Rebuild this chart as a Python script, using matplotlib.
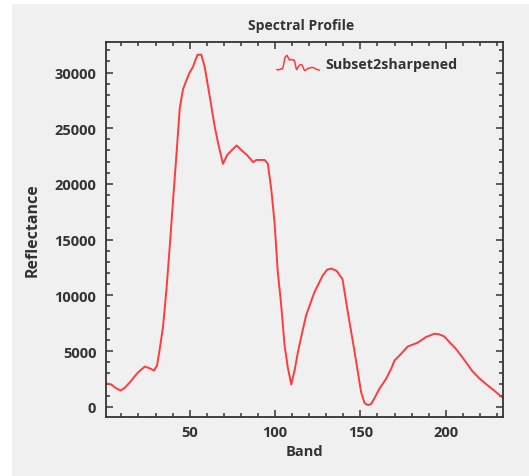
import matplotlib
matplotlib.use("Agg")
import matplotlib.pyplot as plt
from matplotlib.patches import Rectangle
from matplotlib.lines import Line2D
from matplotlib.legend_handler import HandlerBase
from matplotlib.ticker import MultipleLocator
from matplotlib import font_manager
import numpy as np

# ---- data ----
bands = [1, 4, 6.5, 9.5, 12, 15, 19.8, 23.7, 26.6, 29.1, 30.9, 32.5, 34.4, 36.4,
         38.3, 40.5, 42.2, 44.2, 46.1, 48.1, 50, 51.9, 53.3, 54.6, 56.8, 58.8,
         61.7, 64.6, 66.6, 69.5, 72, 74.5, 77.5, 80.5, 83.5, 87.2, 89.1, 93.9,
         95.8, 97.8, 99.7, 101.6, 103.5, 105.6, 107.5, 109.5, 111.5, 113.4,
         115.8, 118.2, 123.1, 128, 130.5, 133, 136, 139.5, 142.6, 146.5, 150.4,
         152.5, 154.5, 156.3, 158, 161.1, 165, 168, 169.9, 173.8, 177.7, 183.5,
         188.4, 193.3, 196, 199, 202.1, 206, 211.8, 215.5, 219.6, 223.5, 228.4, 233]
reflectance = [2100, 2000, 1700, 1450, 1700, 2200, 3090, 3600, 3450, 3250, 3700,
               5200, 7200, 10500, 14300, 19000, 22500, 26800, 28500, 29300, 30000,
               30500, 31100, 31600, 31600, 30500, 27900, 25200, 23700, 21800,
               22600, 23000, 23450, 23000, 22600, 21950, 22150, 22150, 21800,
               19500, 16550, 12100, 9300, 5500, 3500, 2000, 3300, 4900, 6600,
               8200, 10300, 11800, 12300, 12400, 12200, 11450, 8500, 5000, 1300,
               300, 150, 250, 700, 1600, 2500, 3400, 4130, 4750, 5400, 5750,
               6250, 6550, 6500, 6320, 5800, 5180, 4000, 3200, 2550, 2040, 1440, 850]
series_name = "Subset2sharpened"
x_ticks = [50, 100, 150, 200]
y_ticks = [0, 5000, 10000, 15000, 20000, 25000, 30000]

# pick a humanist sans family that really has a bold face installed
bold_fams = {}
for f in font_manager.fontManager.ttflist:
    w = f.weight if isinstance(f.weight, int) else (700 if "bold" in str(f.weight).lower() else 400)
    if w >= 600:
        bold_fams.setdefault(f.name, True)
FONT = "DejaVu Sans"
for cand in ["Noto Sans", "Open Sans", "Roboto", "Lato", "Liberation Sans"]:
    if cand in bold_fams:
        FONT = cand
        break
plt.rcParams['font.family'] = [FONT, 'DejaVu Sans']

TXT = "#333333"
LINE = "#ff3b3b"
W, H = 529, 477

fig = plt.figure(figsize=(W / 100, H / 100), dpi=100, facecolor="white")
bg = Rectangle((12 / W, 0), 1 - 12 / W, 1 - 5 / H,
               transform=fig.transFigure, facecolor="#f0f0f0",
               edgecolor="none", zorder=-10)
fig.patches.append(bg)

L, R, T, B = 106, 503, 43, 418
ax = fig.add_axes([L / W, 1 - B / H, (R - L) / W, (B - T) / H])
ax.set_facecolor("#f0f0f0")
ax.set_zorder(5)

ax.plot(bands, reflectance, color=LINE, lw=1.4, label=series_name)
ax.set_xlim(1, 233.5)
ax.set_ylim(-925, 32740)

ax.set_xticks(x_ticks)
ax.set_yticks(y_ticks)
ax.xaxis.set_minor_locator(MultipleLocator(10))
ax.yaxis.set_minor_locator(MultipleLocator(1000))
ax.tick_params(which="both", direction="in", top=True, right=True,
               color=TXT, width=1.1, labelcolor=TXT)
ax.tick_params(which="major", length=5, labelsize=10.5)
ax.tick_params(axis="x", which="major", pad=6)
ax.tick_params(axis="y", which="major", pad=7)
ax.tick_params(which="minor", length=3)
for lab in ax.get_xticklabels() + ax.get_yticklabels():
    lab.set_fontweight("bold")
for s in ax.spines.values():
    s.set_color(TXT)
    s.set_linewidth(1.3)

ax.set_xlabel("Band", fontsize=10.5, fontweight="bold", color=TXT)
ax.xaxis.label.set_va("center")
ax.xaxis.set_label_coords(0.5, -34 / (B - T))
ax.set_ylabel("Reflectance", fontsize=11.5, fontweight="bold", color=TXT)
ax.yaxis.label.set_va("center")
ax.yaxis.set_label_coords((33 - L) / (R - L), 0.5)

fig.text(301 / W, 1 - 26 / H, "Spectral Profile", ha="center", va="center",
         fontsize=10, fontweight="bold", color=TXT)


class HandlerSpectrum(HandlerBase):
    def create_artists(self, legend, orig_handle, xdescent, ydescent, width,
                       height, fontsize, trans):
        xd = np.asarray(orig_handle.get_xdata(), float)
        yd = np.asarray(orig_handle.get_ydata(), float)
        xs = (xd - xd.min()) / (xd.max() - xd.min()) * width - xdescent
        span = height * 1.5
        cy = height / 2 - ydescent
        ys = cy - span / 2 + (yd - yd.min()) / (yd.max() - yd.min()) * span
        ln = Line2D(xs, ys, color=orig_handle.get_color(), lw=1.1,
                    transform=trans)
        return [ln]


leg = ax.legend(loc="center left",
                bbox_to_anchor=((277 - L) / (R - L), (B - 65) / (B - T)),
                frameon=False, borderpad=0, borderaxespad=0,
                handlelength=2.95, handletextpad=0.45,
                handler_map={Line2D: HandlerSpectrum()},
                prop={"size": 10.3, "weight": "bold"})
for t in leg.get_texts():
    t.set_color(TXT)

fig.savefig("out.png", dpi=100, facecolor="white")
